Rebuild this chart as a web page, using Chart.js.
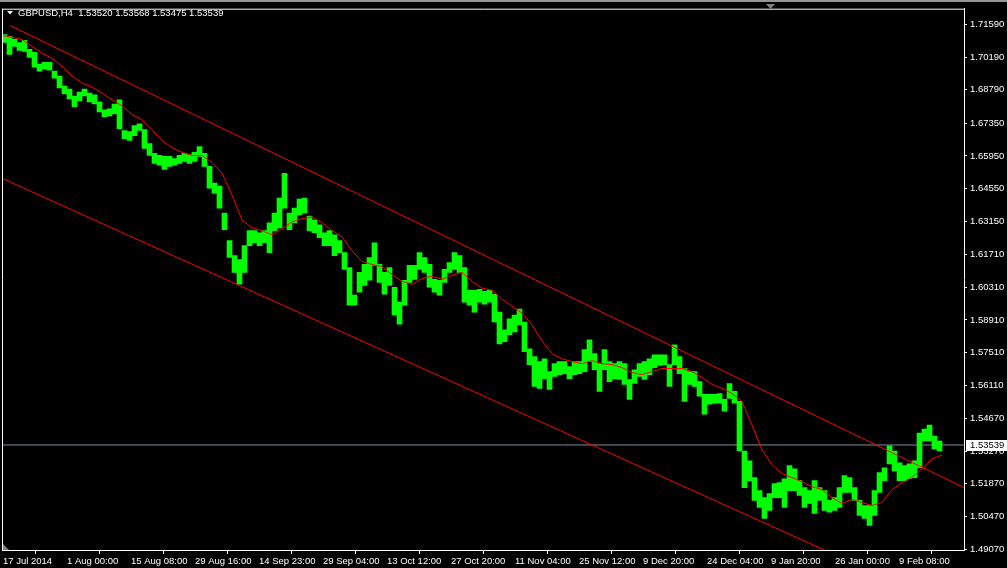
<!DOCTYPE html>
<html>
<head>
<meta charset="utf-8">
<script src="https://cdn.jsdelivr.net/npm/chart.js@4/dist/chart.umd.min.js"></script>
<style>
html,body{margin:0;padding:0;background:#000;overflow:hidden;}
canvas{display:block;}
</style>
</head>
<body>
<canvas id="c" width="1007" height="568"></canvas>
<script>
// ---- data ----
const symbol = 'GBPUSD,H4';
const ohlc = [1.53520, 1.53568, 1.53475, 1.53539];
const lastClose = ohlc[3];

const yTicks = [1.71590, 1.70190, 1.68790, 1.67350, 1.65950, 1.64550, 1.63150, 1.61710,
  1.60310, 1.58910, 1.57510, 1.56110, 1.54670, 1.53270, 1.51870, 1.50470, 1.49070];

const xTickLabels = ['17 Jul 2014', '1 Aug 00:00', '15 Aug 08:00', '29 Aug 16:00', '14 Sep 23:00',
  '29 Sep 04:00', '13 Oct 12:00', '27 Oct 20:00', '11 Nov 04:00', '25 Nov 12:00', '9 Dec 20:00',
  '24 Dec 04:00', '9 Jan 20:00', '26 Jan 00:00', '9 Feb 08:00'];
const xTickBars = [1, 65, 129, 193, 257, 321, 385, 449, 513, 577, 641, 705, 769, 833, 897];

const totalBars = 962;      // visible H4 bars across the window
const barsPerSample = 5;    // each high/low pair covers 5 H4 bars
const maBarsPerSample = 10; // moving average sampled every 10 bars

const highs = [
  1.7116,1.7108,1.7095,1.7082,1.7091,1.7053,1.7040,1.6989,1.6997,1.6997,
  1.6959,1.6938,1.6895,1.6882,1.6852,1.6869,1.6882,1.6865,1.6857,1.6827,
  1.6793,1.6797,1.6818,1.6836,1.6704,1.6699,1.6725,1.6733,1.6708,1.6648,
  1.6606,1.6597,1.6593,1.6593,1.6584,1.6597,1.6606,1.6601,1.6610,1.6635,
  1.6606,1.6550,1.6478,1.6465,1.6350,1.6231,1.6167,1.6150,1.6210,1.6274,
  1.6274,1.6265,1.6274,1.6308,1.6350,1.6414,1.6520,1.6350,1.6371,1.6410,
  1.6414,1.6337,1.6320,1.6299,1.6265,1.6274,1.6256,1.6231,1.6180,1.6116,
  1.5997,1.6095,1.6129,1.6159,1.6222,1.6129,1.6095,1.6116,1.6031,1.5967,
  1.6061,1.6125,1.6125,1.6180,1.6159,1.6129,1.6065,1.6061,1.6108,1.6137,
  1.6180,1.6167,1.6116,1.6018,1.6018,1.6022,1.6014,1.6018,1.6001,1.5924,
  1.5848,1.5895,1.5912,1.5937,1.5882,1.5767,1.5733,1.5712,1.5724,1.5669,
  1.5703,1.5712,1.5712,1.5690,1.5712,1.5712,1.5763,1.5805,1.5746,1.5703,
  1.5763,1.5712,1.5703,1.5712,1.5703,1.5635,1.5677,1.5703,1.5712,1.5724,
  1.5741,1.5741,1.5741,1.5699,1.5784,1.5733,1.5682,1.5669,1.5669,1.5626,
  1.5571,1.5571,1.5571,1.5575,1.5550,1.5618,1.5584,1.5541,1.5328,1.5286,
  1.5214,1.5158,1.5128,1.5145,1.5188,1.5192,1.5209,1.5265,1.5252,1.5201,
  1.5171,1.5158,1.5201,1.5171,1.5158,1.5116,1.5128,1.5171,1.5222,1.5214,
  1.5171,1.5116,1.5094,1.5094,1.5158,1.5235,1.5256,1.5350,1.5328,1.5277,
  1.5265,1.5273,1.5286,1.5405,1.5422,1.5439,1.5392,1.5371
];
const lows = [
  1.7082,1.7031,1.7065,1.7048,1.7044,1.7018,1.6976,1.6959,1.6967,1.6963,
  1.6929,1.6887,1.6861,1.6840,1.6806,1.6831,1.6852,1.6827,1.6818,1.6784,
  1.6763,1.6767,1.6776,1.6712,1.6669,1.6661,1.6682,1.6704,1.6627,1.6597,
  1.6563,1.6555,1.6537,1.6550,1.6555,1.6563,1.6571,1.6563,1.6571,1.6593,
  1.6550,1.6457,1.6435,1.6371,1.6278,1.6159,1.6095,1.6044,1.6095,1.6210,
  1.6222,1.6210,1.6222,1.6180,1.6274,1.6286,1.6371,1.6278,1.6308,1.6342,
  1.6350,1.6274,1.6265,1.6244,1.6210,1.6210,1.6167,1.6180,1.6108,1.5954,
  1.5954,1.6010,1.6039,1.6061,1.6125,1.6052,1.6001,1.6039,1.5912,1.5873,
  1.5954,1.6052,1.6065,1.6108,1.6095,1.6031,1.6010,1.5997,1.6052,1.6095,
  1.6108,1.6095,1.5967,1.5954,1.5924,1.5967,1.5958,1.5967,1.5882,1.5788,
  1.5797,1.5827,1.5839,1.5869,1.5754,1.5699,1.5605,1.5597,1.5639,1.5592,
  1.5648,1.5656,1.5660,1.5639,1.5656,1.5660,1.5669,1.5712,1.5677,1.5584,
  1.5677,1.5626,1.5639,1.5635,1.5614,1.5550,1.5618,1.5648,1.5635,1.5656,
  1.5686,1.5695,1.5699,1.5605,1.5699,1.5660,1.5541,1.5614,1.5605,1.5563,
  1.5486,1.5529,1.5533,1.5533,1.5499,1.5554,1.5533,1.5328,1.5171,1.5201,
  1.5116,1.5086,1.5039,1.5073,1.5128,1.5128,1.5086,1.5158,1.5158,1.5137,
  1.5086,1.5103,1.5060,1.5116,1.5073,1.5065,1.5073,1.5086,1.5150,1.5150,
  1.5116,1.5052,1.5039,1.5009,1.5052,1.5150,1.5201,1.5273,1.5243,1.5201,
  1.5201,1.5209,1.5214,1.5256,1.5371,1.5371,1.5337,1.5328
];
const movingAverage = [
  1.7112,1.7104,1.7095,1.7065,1.7036,1.7014,1.6980,1.6938,1.6908,1.6891,
  1.6865,1.6836,1.6810,1.6772,1.6750,1.6708,1.6661,1.6631,1.6610,1.6597,
  1.6597,1.6567,1.6520,1.6427,1.6320,1.6286,1.6274,1.6256,1.6282,1.6312,
  1.6325,1.6333,1.6308,1.6274,1.6248,1.6188,1.6142,1.6129,1.6120,1.6086,
  1.6056,1.6044,1.6069,1.6078,1.6065,1.6082,1.6095,1.6056,1.6027,1.6018,
  1.5980,1.5950,1.5920,1.5869,1.5801,1.5746,1.5724,1.5712,1.5703,1.5716,
  1.5703,1.5699,1.5686,1.5665,1.5656,1.5669,1.5682,1.5682,1.5682,1.5669,
  1.5644,1.5614,1.5597,1.5575,1.5541,1.5439,1.5333,1.5269,1.5231,1.5214,
  1.5196,1.5175,1.5162,1.5128,1.5103,1.5120,1.5107,1.5094,1.5107,1.5162,
  1.5192,1.5214,1.5252,1.5294,1.5311
];
const upperLineBars = [8, 962];
const upperLinePrices = [1.7155, 1.5171];
const lowerLineBars = [0, 962];
const lowerLinePrices = [1.6499, 1.4632];

const yMin = 1.4903, yMax = 1.7227;

// ---- styles ----
const GREEN = '#00ff00', RED = '#ff0000', WHITE = '#ffffff', GREY_LINE = 'rgb(128,140,160)';
const FONT = {family: '"Liberation Sans", Arial, sans-serif', size: 9.5};
Chart.defaults.color = WHITE;
Chart.defaults.font.family = FONT.family;
Chart.defaults.font.size = FONT.size;

const pts = (xs, ys) => xs.map((x, i) => ({x: x, y: ys[i]}));

const deco = {
  id: 'deco',
  beforeDraw(chart) {
    const c = chart.ctx;
    c.save();
    c.fillStyle = '#000';
    c.fillRect(0, 0, chart.width, chart.height);
    c.restore();
  },
  afterDraw(chart) {
    const c = chart.ctx, a = chart.chartArea, ys = chart.scales.y;
    c.save();
    // window top strip
    c.fillStyle = 'rgb(150,150,150)';
    c.fillRect(0, 0, chart.width, 2);
    // left / top frame
    c.strokeStyle = WHITE; c.lineWidth = 1;
    c.beginPath();
    c.moveTo(a.left + 0.5, a.top + 0.5); c.lineTo(a.right, a.top + 0.5);
    c.moveTo(a.left + 0.5, a.top); c.lineTo(a.left + 0.5, a.bottom);
    c.stroke();
    // chart shift marker (top)
    c.fillStyle = 'rgb(128,128,128)';
    c.beginPath(); c.moveTo(766, 4); c.lineTo(775, 4); c.lineTo(770.5, 9); c.closePath(); c.fill();
    // scroll marker (bottom-left)
    c.beginPath(); c.moveTo(a.left + 1, a.bottom - 6); c.lineTo(a.left + 1, a.bottom); c.lineTo(a.left + 7, a.bottom); c.closePath(); c.fill();
    // title
    c.fillStyle = WHITE;
    c.beginPath(); c.moveTo(7, 11); c.lineTo(13, 11); c.lineTo(10, 14.5); c.closePath(); c.fill();
    c.font = FONT.size + 'px ' + FONT.family;
    c.textBaseline = 'middle'; c.textAlign = 'left';
    c.fillText(symbol + '  ' + ohlc.map(v => v.toFixed(5)).join(' '), 18, 13);
    // current price label
    const py = Math.round(ys.getPixelForValue(lastClose));
    c.fillStyle = WHITE;
    c.fillRect(a.right + 2, py - 5, 41, 11);
    c.fillStyle = '#000';
    c.fillText(lastClose.toFixed(5), a.right + 6, py + 0.5);
    c.restore();
  }
};

new Chart(document.getElementById('c'), {
  type: 'bar',
  data: {
    datasets: [
      {
        type: 'line', label: 'last',
        data: pts([0, totalBars], [lastClose, lastClose]),
        borderColor: GREY_LINE, borderWidth: 1, pointRadius: 0, order: 10
      },
      {
        type: 'bar', label: symbol,
        data: highs.map((h, i) => ({x: i * barsPerSample + barsPerSample / 2, y: [lows[i], h]})),
        backgroundColor: GREEN, borderWidth: 0, barThickness: barsPerSample, grouped: false, order: 4
      },
      {
        type: 'line', label: 'upper',
        data: pts(upperLineBars, upperLinePrices),
        borderColor: RED, borderWidth: 1, pointRadius: 0, order: 2
      },
      {
        type: 'line', label: 'lower',
        data: pts(lowerLineBars, lowerLinePrices),
        borderColor: RED, borderWidth: 1, pointRadius: 0, order: 2
      },
      {
        type: 'line', label: 'MA',
        data: movingAverage.map((v, j) => ({x: j * maBarsPerSample, y: v})),
        borderColor: RED, borderWidth: 1, pointRadius: 0, tension: 0, order: 1
      }
    ]
  },
  options: {
    responsive: false, animation: false, devicePixelRatio: 1,
    layout: {padding: {left: 2, top: 4, right: 0, bottom: 0}},
    plugins: {legend: {display: false}, tooltip: {enabled: false}},
    scales: {
      x: {
        type: 'linear', min: 0, max: totalBars, offset: false,
        grid: {drawOnChartArea: false, drawTicks: true, tickLength: 4, color: WHITE},
        border: {display: true, color: WHITE},
        ticks: {autoSkip: false, maxRotation: 0, align: 'start', padding: 2, color: WHITE,
          callback: (v, i) => xTickLabels[i]},
        afterBuildTicks: s => { s.ticks = xTickBars.map(v => ({value: v})); },
        afterFit: s => { s.height = 18; }
      },
      y: {
        type: 'linear', position: 'right', min: yMin, max: yMax,
        grid: {drawOnChartArea: false, drawTicks: true, tickLength: 3, color: WHITE},
        border: {display: true, color: WHITE},
        ticks: {autoSkip: false, padding: 3, color: WHITE, callback: v => Number(v).toFixed(5)},
        afterBuildTicks: s => { s.ticks = yTicks.map(v => ({value: v})); },
        afterFit: s => { s.width = 43; }
      }
    }
  },
  plugins: [deco]
});
</script>
</body>
</html>
